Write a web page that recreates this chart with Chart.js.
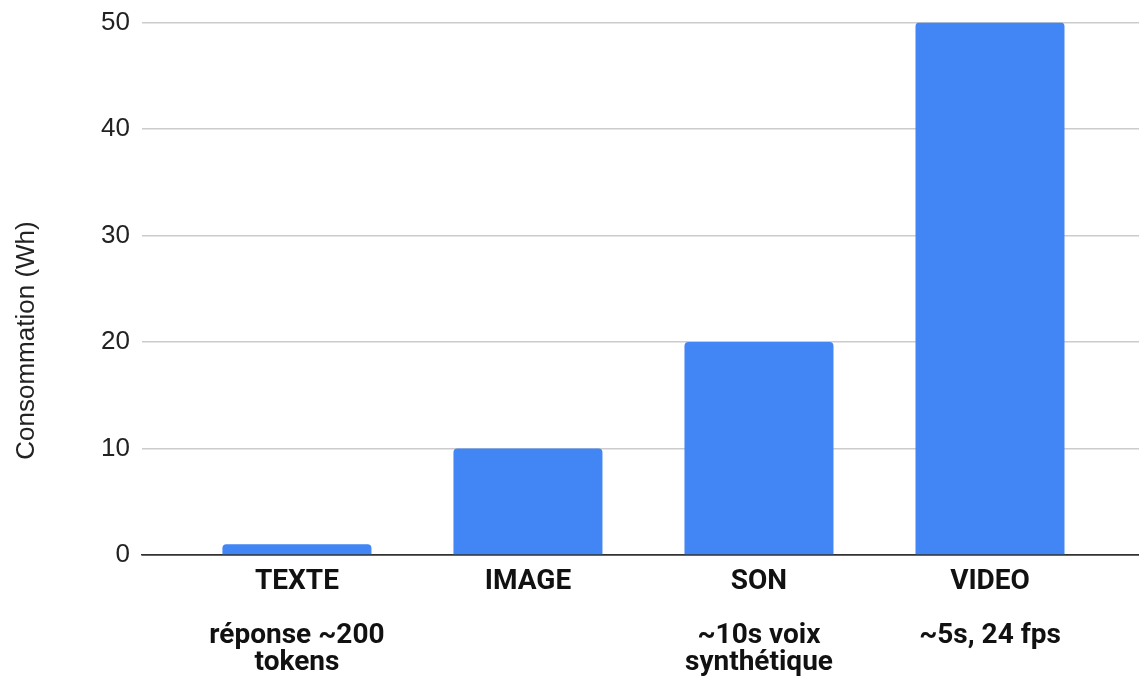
<!DOCTYPE html>
<html>
<head>
<meta charset="utf-8">
<script src="https://cdn.jsdelivr.net/npm/chart.js@4"></script>
<style>
  html, body { margin: 0; padding: 0; background: #ffffff; }
  #wrap { width: 1139px; height: 681px; position: relative; }
</style>
</head>
<body>
<div id="wrap"><canvas id="c"></canvas></div>
<script>
// ---- data ----
const categories = ["TEXTE", "IMAGE", "SON", "VIDEO"];
const subLabels = [["réponse ~200", "tokens"], [], ["~10s voix", "synthétique"], ["~5s, 24 fps"]];
const values = [1, 10, 20, 50];
const yTicks = [0, 10, 20, 30, 40, 50];
const yTitle = "Consommation (Wh)";

const points = categories.map((c, i) => ({ x: i, y: values[i] }));

const yTitlePlugin = {
  id: 'yTitlePlugin',
  afterDraw(chart) {
    const ctx = chart.ctx;
    ctx.save();
    ctx.font = '26px "Liberation Sans", Arial, sans-serif';
    ctx.fillStyle = '#222222';
    ctx.textAlign = 'center';
    ctx.textBaseline = 'middle';
    ctx.translate(27, chart.height / 2);
    ctx.rotate(-Math.PI / 2);
    ctx.fillText(yTitle, 0, 0);
    ctx.restore();
  }
};

new Chart(document.getElementById('c'), {
  type: 'bar',
  data: {
    datasets: [{
      data: points,
      backgroundColor: '#4285F4',
      borderWidth: 0,
      borderRadius: { topLeft: 4, topRight: 4, bottomLeft: 0, bottomRight: 0 },
      borderSkipped: 'bottom',
      categoryPercentage: 1,
      barPercentage: 0.645
    }]
  },
  plugins: [yTitlePlugin],
  options: {
    responsive: true,
    maintainAspectRatio: false,
    animation: false,
    layout: { padding: { left: 89, right: -13, top: 0, bottom: -8 } },
    plugins: { legend: { display: false }, tooltip: { enabled: false } },
    scales: {
      x: {
        type: 'linear',
        offset: false,
        min: -0.671,
        max: 3.645,
        afterBuildTicks: (axis) => { axis.ticks = categories.map((c, i) => ({ value: i })); },
        grid: { display: false, drawTicks: false, offset: false },
        border: { display: true, color: '#333333', width: 1.5 },
        ticks: {
          autoSkip: false,
          maxRotation: 0,
          minRotation: 0,
          padding: 13,
          color: '#111111',
          font: { family: 'Roboto, sans-serif', size: 28, weight: 'bold', lineHeight: '27px' },
          callback: (v) => {
            const i = Math.round(v);
            return [categories[i], ''].concat(subLabels[i]);
          }
        }
      },
      y: {
        min: 0,
        max: 50,
        afterBuildTicks: (axis) => { axis.ticks = yTicks.map(v => ({ value: v })); },
        grid: {
          color: (ctx) => ctx.tick && ctx.tick.value === 0 ? '#333333' : '#cccccc',
          lineWidth: 1.5,
          drawTicks: false
        },
        border: { display: false },
        ticks: {
          padding: 12,
          color: '#222222',
          font: { family: '"Liberation Sans", Arial, sans-serif', size: 26, lineHeight: 0.8 }
        }
      }
    }
  }
});
</script>
</body>
</html>
